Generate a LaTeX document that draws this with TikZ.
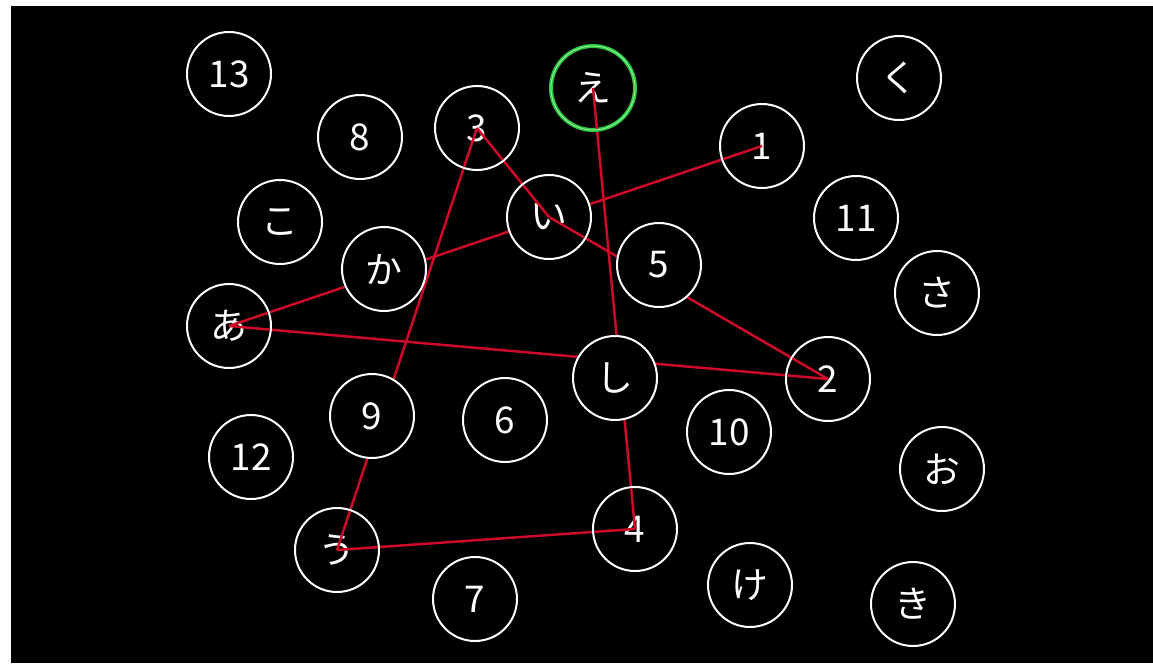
\documentclass[tikz,border=0pt]{standalone}
\usepackage{fontspec}
\setmainfont{Noto Sans CJK JP}
\usepackage{xcolor}
\definecolor{trailred}{RGB}{205,10,40}
\definecolor{ringgreen}{RGB}{40,205,60}
\pgfdeclarelayer{background}
\pgfdeclarelayer{foreground}
\pgfsetlayers{background,main,foreground}

\begin{document}
\begin{tikzpicture}[x=0.02cm,y=-0.02cm,
  every node/.style={font=\fontsize{21}{21}\selectfont},
  disc/.style={circle,draw=white,line width=0.04cm,fill=black,text=white,
    minimum size=1.68cm,inner sep=0pt},
  current/.style={draw=ringgreen,line width=0.08cm,
    postaction={draw=ringgreen!35!white,line width=0.4pt}},
  trail/.style={trailred,line width=0.05cm}]
% numbers
\node[disc] (n1) at (762,146) {1};
\node[disc] (n2) at (828,379) {2};
\node[disc] (n3) at (477,128) {3};
\node[disc] (n4) at (635,529) {4};
\node[disc] (n5) at (659,265) {5};
\node[disc] (n6) at (505,420) {6};
\node[disc] (n7) at (475,599) {7};
\node[disc] (n8) at (360,137) {8};
\node[disc] (n9) at (372,416) {9};
\node[disc] (n10) at (729,432) {10};
\node[disc] (n11) at (856,218) {11};
\node[disc] (n12) at (251,457) {12};
\node[disc] (n13) at (229,74) {13};
% kana
\node[disc] (a) at (229,326) {あ};
\node[disc] (i) at (549,217) {い};
\node[disc] (u) at (337,550) {う};
\node[disc,current] (e) at (593,88) {え};
\node[disc] (o) at (942,469) {お};
\node[disc] (ka) at (384,269) {か};
\node[disc] (ki) at (913,604) {き};
\node[disc] (ku) at (899,78) {く};
\node[disc] (ke) at (750,585) {け};
\node[disc] (ko) at (280,222) {こ};
\node[disc] (sa) at (937,293) {さ};
\node[disc] (shi) at (615,378) {し};
% trail
\begin{pgfonlayer}{background}
\fill[white] (0,0) rectangle (1153,663);
\fill[black] (11,6) rectangle (1153,663);
\foreach \p/\q in {n1/a,a/n2,n2/i,i/n3,n3/u,u/n4,n4/e}
  \draw[trail] (\p.center) -- (\q.center);
\end{pgfonlayer}
\begin{pgfonlayer}{foreground}
\foreach \p/\q in {n1/a,a/n2,n2/i,i/n3,n3/u,u/n4,n4/e}{
  \begin{scope}
    \clip (\p.center) circle (41);
    \draw[trail] (\p.center) -- (\q.center);
  \end{scope}
  \begin{scope}
    \clip (\q.center) circle (41);
    \draw[trail] (\p.center) -- (\q.center);
  \end{scope}
}
\end{pgfonlayer}
\end{tikzpicture}
\end{document}
